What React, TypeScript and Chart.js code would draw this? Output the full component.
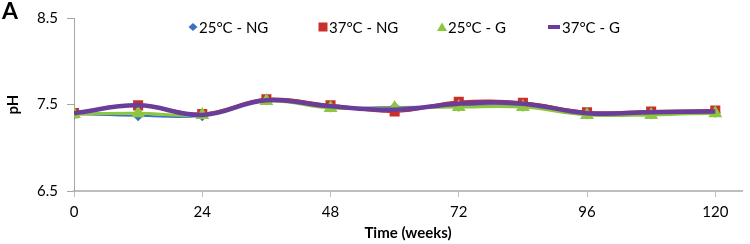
import React, { useEffect, useRef } from "react";
import { Chart, registerables } from "chart.js";

Chart.register(...registerables);

const weeks = [0, 12, 24, 36, 48, 60, 72, 84, 96, 108, 120];
const xTickValues = [0, 24, 48, 72, 96, 120];
const yTickValues = [6.5, 7.5, 8.5];

const ph25NG = [7.39, 7.37, 7.37, 7.55, 7.47, 7.47, 7.48, 7.48, 7.39, 7.39, 7.41];
const ph37NG = [7.40, 7.49, 7.39, 7.56, 7.49, 7.42, 7.53, 7.52, 7.41, 7.42, 7.43];
const ph25G = [7.39, 7.40, 7.38, 7.54, 7.46, 7.46, 7.47, 7.47, 7.38, 7.38, 7.40];
const ph37G = [7.40, 7.49, 7.38, 7.55, 7.48, 7.44, 7.51, 7.51, 7.40, 7.41, 7.42];

const seriesLabels = ["25°C - NG", "37°C - NG", "25°C - G", "37°C - G"];
const colors = ["#3b72c4", "#c9302c", "#8dc63f", "#6a3d9a"];

const FONT = "Lato, 'Liberation Sans', sans-serif";

// legend item marker centres, as offsets from the plot-area centre
const legendOffsets = [-215, -85, 34, 146];

function drawMarker(ctx: CanvasRenderingContext2D, kind: string, x: number, y: number, color: string) {
  ctx.save();
  ctx.fillStyle = color;
  ctx.strokeStyle = color;
  ctx.beginPath();
  if (kind === "rectRot") {
    ctx.moveTo(x, y - 4);
    ctx.lineTo(x + 4.5, y);
    ctx.lineTo(x, y + 4);
    ctx.lineTo(x - 4.5, y);
    ctx.closePath();
    ctx.fill();
  } else if (kind === "rect") {
    ctx.rect(x - 4.5, y - 4.5, 9, 9);
    ctx.fill();
  } else if (kind === "triangle") {
    ctx.moveTo(x, y - 4.5);
    ctx.lineTo(x + 5, y + 4);
    ctx.lineTo(x - 5, y + 4);
    ctx.closePath();
    ctx.fill();
  } else {
    ctx.lineWidth = 4;
    ctx.moveTo(x - 6, y);
    ctx.lineTo(x + 6, y);
    ctx.stroke();
  }
  ctx.restore();
}

const markerKinds = ["rectRot", "rect", "triangle", "line"];

const decorPlugin = {
  id: "decor",
  afterDraw(chart: any) {
    const ctx: CanvasRenderingContext2D = chart.ctx;
    const area = chart.chartArea;
    ctx.save();
    ctx.fillStyle = "#000";
    ctx.font = `bold 23px ${FONT}`;
    ctx.textAlign = "left";
    ctx.textBaseline = "middle";
    ctx.fillText("A", 2, 12);
    ctx.save();
    ctx.translate(13, (area.top + area.bottom) / 2);
    ctx.rotate(-Math.PI / 2);
    ctx.font = `bold 15px ${FONT}`;
    ctx.textAlign = "center";
    ctx.textBaseline = "middle";
    ctx.fillText("pH", 0, 0);
    ctx.restore();
    ctx.font = `15px ${FONT}`;
    ctx.textBaseline = "middle";
    ctx.textAlign = "left";
    const cx = (area.left + area.right) / 2;
    const y = 27;
    seriesLabels.forEach((l, i) => {
      const mx = cx + legendOffsets[i];
      drawMarker(ctx, markerKinds[i], mx, y, colors[i]);
      ctx.fillStyle = "#000";
      ctx.fillText(l, mx + (i === 3 ? 8 : 6), y + 1);
    });
    ctx.restore();
  },
};

export default function App() {
  const ref = useRef<HTMLCanvasElement | null>(null);
  useEffect(() => {
    if (!ref.current) return;
    const mk = (vals: number[]) => weeks.map((w, i) => ({ x: w, y: vals[i] }));
    const chart = new Chart(ref.current, {
      type: "line",
      data: {
        datasets: [
          {
            label: seriesLabels[0],
            data: mk(ph25NG),
            borderColor: colors[0],
            backgroundColor: colors[0],
            borderWidth: 2,
            pointStyle: "rectRot",
            pointRadius: 4,
            tension: 0.4,
            order: 3,
          },
          {
            label: seriesLabels[1],
            data: mk(ph37NG),
            borderColor: colors[1],
            backgroundColor: colors[1],
            borderWidth: 3,
            pointStyle: "rect",
            pointRadius: 5,
            tension: 0.4,
            order: 2,
          },
          {
            label: seriesLabels[2],
            data: mk(ph25G),
            borderColor: colors[2],
            backgroundColor: colors[2],
            borderWidth: 3,
            pointStyle: "triangle",
            pointRadius: 5,
            tension: 0.4,
            order: 1,
          },
          {
            label: seriesLabels[3],
            data: mk(ph37G),
            borderColor: colors[3],
            backgroundColor: colors[3],
            borderWidth: 4.5,
            pointRadius: 0,
            tension: 0.4,
            order: 0,
          },
        ],
      },
      options: {
        animation: false,
        responsive: true,
        maintainAspectRatio: false,
        layout: { padding: { top: 10, right: 1, left: 0, bottom: 0 } },
        plugins: { legend: { display: false }, tooltip: { enabled: false } },
        scales: {
          x: {
            type: "linear",
            min: 0,
            max: 125,
            afterBuildTicks: (s: any) => {
              s.ticks = xTickValues.map((v) => ({ value: v }));
            },
            afterFit: (s: any) => {
              s.height = 53;
            },
            grid: { drawOnChartArea: false, drawTicks: true, tickLength: 6, color: "#bdbdbd" },
            border: { color: "#bdbdbd", width: 2 },
            ticks: { color: "#000", font: { family: FONT, size: 15 }, padding: 6, maxRotation: 0 },
            title: {
              display: true,
              text: "Time (weeks)",
              color: "#000",
              font: { family: FONT, size: 15, weight: "bold" },
              padding: { top: 0, bottom: 2 },
            },
          },
          y: {
            min: 6.5,
            max: 8.5,
            afterBuildTicks: (s: any) => {
              s.ticks = yTickValues.map((v) => ({ value: v }));
            },
            afterFit: (s: any) => {
              s.width = 74;
            },
            grid: { drawOnChartArea: false, drawTicks: true, tickLength: 7, color: "#a6a6a6" },
            border: { color: "#a6a6a6", width: 1 },
            ticks: {
              color: "#000",
              font: { family: FONT, size: 15 },
              padding: 9,
              callback: (v: any) => Number(v).toFixed(1),
            },
          },
        },
      },
      plugins: [decorPlugin],
    } as any);
    return () => chart.destroy();
  }, []);
  return (
    <div style={{ position: "fixed", left: 0, top: 0, width: 750, height: 244, background: "#fff" }}>
      <canvas ref={ref} />
    </div>
  );
}
